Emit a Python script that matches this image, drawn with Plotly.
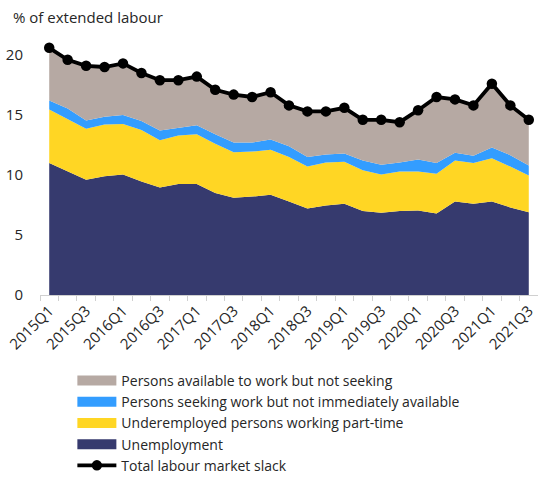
import plotly.graph_objects as go

# Quarterly categories
quarters = [
    "2015Q1", "2015Q2", "2015Q3", "2015Q4",
    "2016Q1", "2016Q2", "2016Q3", "2016Q4",
    "2017Q1", "2017Q2", "2017Q3", "2017Q4",
    "2018Q1", "2018Q2", "2018Q3", "2018Q4",
    "2019Q1", "2019Q2", "2019Q3", "2019Q4",
    "2020Q1", "2020Q2", "2020Q3", "2020Q4",
    "2021Q1", "2021Q2", "2021Q3",
]

# Components of labour market slack, % of extended labour force
unemployment = [11.0, 10.3, 9.6, 9.9, 10.05, 9.45, 8.95, 9.25, 9.25, 8.5, 8.1, 8.2,
                8.35, 7.8, 7.2, 7.45, 7.6, 7.0, 6.85, 7.0, 7.05, 6.8, 7.8, 7.6,
                7.8, 7.3, 6.9]
underemployed = [4.45, 4.35, 4.25, 4.3, 4.2, 4.3, 3.95, 4.05, 4.15, 4.1, 3.8, 3.75,
                 3.75, 3.7, 3.5, 3.6, 3.5, 3.4, 3.2, 3.3, 3.25, 3.3, 3.4, 3.4,
                 3.6, 3.4, 3.05]
seeking_not_available = [0.75, 0.9, 0.7, 0.65, 0.75, 0.75, 0.8, 0.65, 0.75, 0.8, 0.8, 0.75,
                         0.85, 0.9, 0.8, 0.65, 0.7, 0.8, 0.8, 0.75, 1.0, 0.9, 0.65, 0.6,
                         0.9, 0.95, 0.85]
available_not_seeking = [4.4, 4.05, 4.55, 4.15, 4.3, 4.0, 4.2, 3.95, 4.05, 3.7, 4.0, 3.8,
                         3.95, 3.4, 3.8, 3.6, 3.8, 3.4, 3.75, 3.35, 4.1, 5.5, 4.45, 4.2,
                         5.3, 4.15, 3.8]

tick_positions = list(range(0, len(quarters), 2))
tick_labels = [quarters[i] for i in tick_positions]
y_ticks = [0, 5, 10, 15, 20]

total_slack = [round(a + b + c + d, 2) for a, b, c, d in
               zip(unemployment, underemployed, seeking_not_available, available_not_seeking)]

FONT = "Open Sans"
TEXT = "#262626"
x = list(range(len(quarters)))

series = [
    ("Unemployment", unemployment, "#363A6E", 4),
    ("Underemployed persons working part-time", underemployed, "#FFD624", 3),
    ("Persons seeking work but not immediately available", seeking_not_available, "#339DFF", 2),
    ("Persons available to work but not seeking", available_not_seeking, "#B6A9A3", 1),
]

fig = go.Figure()

# Stacked areas
for name, vals, color, rank in series:
    fig.add_trace(go.Scatter(
        x=x, y=vals, name=name, stackgroup="slack", mode="lines",
        line=dict(width=0, color=color), fillcolor=color,
        showlegend=False, hoverinfo="skip",
    ))

# Legend entries with thick swatches
for name, vals, color, rank in series:
    fig.add_trace(go.Scatter(
        x=[None], y=[None], name=name, mode="lines",
        line=dict(width=10, color=color), legendrank=rank, showlegend=True,
    ))

# Total slack line
fig.add_trace(go.Scatter(
    x=x, y=total_slack, name="Total labour market slack", mode="lines+markers",
    line=dict(color="black", width=3.8), marker=dict(color="black", size=10.5),
    legendrank=5,
))

fig.update_layout(
    width=538, height=477,
    margin=dict(l=40, r=0, t=31, b=182, autoexpand=False),
    paper_bgcolor="white", plot_bgcolor="white",
    font=dict(family=FONT, size=14, color=TEXT),
    title=dict(text="% of extended labour", x=13 / 538, xanchor="left", xref="container",
               y=1 - 18 / 477, yanchor="middle", yref="container",
               font=dict(family=FONT, size=15, color=TEXT)),
    showlegend=True,
    legend=dict(
        x=0.065, xanchor="left", y=-0.265, yanchor="top",
        traceorder="normal",
        font=dict(family=FONT, size=14, color=TEXT),
        itemwidth=39, tracegroupgap=0, bgcolor="rgba(0,0,0,0)",
    ),
    xaxis=dict(
        range=[-0.5, len(quarters) - 0.5],
        tickmode="array", tickvals=tick_positions, ticktext=tick_labels,
        tickangle=-45, ticks="", showgrid=False, zeroline=False,
        showline=True, linecolor="#D0D0D0", linewidth=1,
        minor=dict(tickmode="array", tickvals=[i - 0.5 for i in range(len(quarters) + 1)],
                   ticks="outside", ticklen=5, tickcolor="#D0D0D0", tickwidth=1),
        tickfont=dict(family=FONT, size=15, color=TEXT),
    ),
    yaxis=dict(
        range=[0, 22], tickmode="array", tickvals=y_ticks,
        ticks="", showgrid=False, zeroline=False, showline=False,
        ticklabelstandoff=16,
        tickfont=dict(family=FONT, size=15, color=TEXT),
    ),
)

fig.write_html("out.html")
